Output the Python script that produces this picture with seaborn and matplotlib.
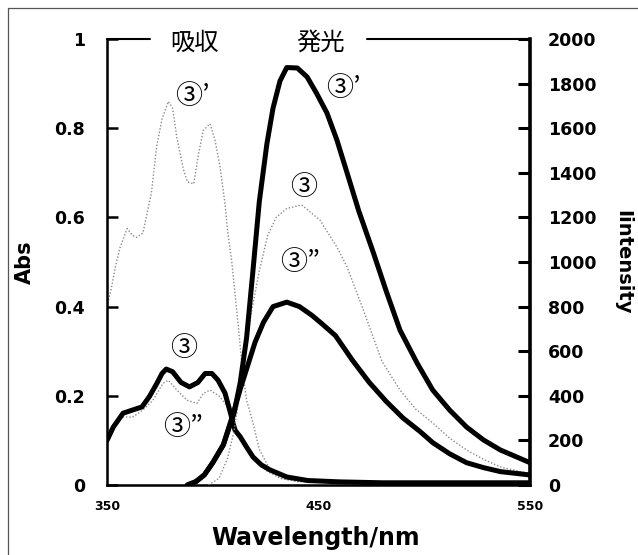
import matplotlib
matplotlib.use("Agg")
import matplotlib.pyplot as plt
from matplotlib.lines import Line2D
import seaborn as sns

# absorption spectra (Abs, left axis)
abs_3p_wl = [350, 352, 354, 356, 359.5, 362, 364, 367, 369, 371, 373.5, 376, 379, 381, 383, 386, 388,
             391, 393, 395.5, 398.7, 401, 403.4, 405.8, 407, 409, 410.5, 412, 414, 416, 419, 422, 427,
             432, 440, 460, 500, 550]
abs_3p = [0.40, 0.44, 0.49, 0.53, 0.575, 0.56, 0.555, 0.565, 0.61, 0.655, 0.76, 0.82, 0.86, 0.845, 0.78,
          0.71, 0.68, 0.675, 0.735, 0.795, 0.81, 0.775, 0.715, 0.63, 0.57, 0.50, 0.43, 0.36, 0.26, 0.19,
          0.14, 0.08, 0.035, 0.015, 0.008, 0.005, 0.004, 0.003]

abs_3_wl = [350, 353, 357.6, 362, 366.5, 370, 373.6, 376, 378, 381, 385, 389, 393, 396.4, 399.6, 402.5,
            405.8, 408, 410.5, 413, 416, 419, 423, 427, 435, 445, 460, 480, 500, 520, 550]
abs_3 = [0.10, 0.13, 0.161, 0.168, 0.175, 0.198, 0.228, 0.25, 0.26, 0.254, 0.23, 0.22, 0.23, 0.25, 0.25,
         0.235, 0.206, 0.168, 0.123, 0.108, 0.085, 0.063, 0.045, 0.034, 0.018, 0.01, 0.007, 0.005, 0.005,
         0.005, 0.005]

abs_3pp_wl = [350, 356, 362, 367, 371.7, 376.5, 379, 383, 387.8, 392.5, 395.5, 398.7, 403.4, 407, 410,
              413, 417, 421, 426, 432, 440, 460, 500, 550]
abs_3pp = [0.117, 0.153, 0.152, 0.168, 0.19, 0.228, 0.235, 0.213, 0.19, 0.183, 0.205, 0.213, 0.198, 0.175,
           0.14, 0.11, 0.075, 0.05, 0.03, 0.015, 0.008, 0.005, 0.004, 0.004]

# emission spectra (Intensity, right axis)
em_3p_wl = [388, 392, 396, 400, 405, 410, 413, 416, 419, 422, 425.6, 428.5, 431.8, 435, 440, 444.6, 449,
            454, 458.7, 463.5, 469, 476, 482, 488.5, 496.6, 504, 512, 520, 528, 536, 550]
em_3p = [0, 15, 45, 100, 180, 320, 460, 660, 960, 1270, 1530, 1690, 1812, 1872, 1870, 1830, 1758, 1668,
         1547, 1400, 1230, 1040, 870, 695, 547, 426, 336, 260, 202, 157, 100]

em_3_wl = [398, 403, 407, 410, 414, 418, 422, 426, 430, 435, 442, 450.7, 458.7, 463.5, 471, 480, 488.5,
           496, 504, 512, 520, 528, 536, 550]
em_3 = [0, 30, 120, 240, 480, 760, 960, 1120, 1200, 1240, 1256, 1188, 1067, 978, 790, 555, 426, 340, 278,
        210, 157, 115, 81, 50]

em_3pp_wl = [388, 392, 396, 400, 405, 410, 413, 416, 420, 424, 428.5, 435, 441, 447, 452, 458, 466, 474,
             482, 490, 498, 504, 512, 520, 528, 536, 550]
em_3pp = [0, 15, 45, 100, 180, 330, 430, 520, 640, 730, 800, 820, 800, 760, 720, 670, 560, 460, 375, 300,
          240, 190, 140, 100, 78, 60, 45]

abs_ticks = [0, 0.2, 0.4, 0.6, 0.8, 1]
abs_ticklabels = ["0", "0.2", "0.4", "0.6", "0.8", "1"]
int_ticks = [0, 200, 400, 600, 800, 1000, 1200, 1400, 1600, 1800, 2000]
wl_ticks = [350, 450, 550]

sns.set_style("white")
plt.rcParams["font.family"] = ["DejaVu Sans"]
plt.rcParams.update({"text.color": "black", "axes.labelcolor": "black",
                     "xtick.color": "black", "ytick.color": "black"})
cjk = ["Noto Sans CJK JP", "DejaVu Sans"]

fig, ax = plt.subplots(figsize=(6.38, 5.55), dpi=100)
fig.subplots_adjust(left=107 / 638, right=530 / 638, bottom=1 - 485 / 555, top=1 - 39 / 555)
ax2 = ax.twinx()

grey = dict(color="#8a8a8a", lw=1.0, linestyle=(0, (1, 1.4)))
black = dict(color="black", lw=3.6, solid_joinstyle="round", solid_capstyle="round")

sns.lineplot(x=abs_3p_wl, y=abs_3p, ax=ax, **grey)
sns.lineplot(x=abs_3pp_wl, y=abs_3pp, ax=ax, **grey)
sns.lineplot(x=abs_3_wl, y=abs_3, ax=ax, **black)
sns.lineplot(x=em_3_wl, y=em_3, ax=ax2, **grey)
sns.lineplot(x=em_3p_wl, y=em_3p, ax=ax2, **black)
sns.lineplot(x=em_3pp_wl, y=em_3pp, ax=ax2, **black)

ax.set_xlim(350, 550)
ax.set_ylim(0, 1)
ax2.set_ylim(0, 2000)

ax.set_xticks(wl_ticks)
ax.set_xticklabels([str(v) for v in wl_ticks], fontsize=9, fontweight="bold")
ax.tick_params(axis="x", length=0, pad=11)
ax.set_yticks(abs_ticks)
ax.set_yticklabels(abs_ticklabels, fontsize=12.5, fontweight="bold")
ax.tick_params(axis="y", direction="in", length=8, width=1.8, pad=16)
ax2.set_yticks(int_ticks)
ax2.set_yticklabels([str(v) for v in int_ticks], fontsize=12.5, fontweight="bold")
ax2.tick_params(axis="y", direction="in", length=9, width=2.2, pad=13)

ax.set_xlabel("Wavelength/nm", fontsize=17, fontweight="heavy", va="center")
ax.xaxis.set_label_coords(0.494, -0.118)
ax.set_ylabel("Abs", fontsize=15, fontweight="bold", va="center")
ax.yaxis.set_label_coords(-0.194, 0.5)
ax2.set_ylabel("Iintensity", fontsize=14, fontweight="bold", rotation=270, va="center")
ax2.yaxis.set_label_coords(1.22, 0.5)

for a in (ax, ax2):
    a.spines["top"].set_visible(False)
    for s in a.spines.values():
        s.set_color("black")
ax.spines["left"].set_linewidth(1.8)
ax.spines["bottom"].set_linewidth(1.8)
ax2.spines["right"].set_linewidth(2.6)

# broken top frame around the 吸収 / 発光 headings
ax.plot([0, 0.102], [1, 1], transform=ax.transAxes, color="black", lw=1.5, clip_on=False)
ax.plot([0.615, 1], [1, 1], transform=ax.transAxes, color="black", lw=1.5, clip_on=False)
ax.text(0.208, 0.991, "吸収", transform=ax.transAxes, ha="center", va="center", fontsize=17.5, family=cjk)
ax.text(0.504, 0.991, "発光", transform=ax.transAxes, ha="center", va="center", fontsize=17.5, family=cjk)

# curve labels
labels = [
    (382.0, 0.870, "③’"),
    (453.5, 0.890, "③’"),
    (436.5, 0.668, "③"),
    (431.8, 0.500, "③”"),
    (379.8, 0.307, "③"),
    (376.5, 0.128, "③”"),
]
for x, y, s in labels:
    ax.text(x, y, s, ha="left", va="center", fontsize=19.5, family=cjk)

# scan frame lines
fig.add_artist(Line2D([8 / 638, 8 / 638], [0, 1 - 8 / 555], transform=fig.transFigure, color="#555555", lw=0.9))
fig.add_artist(Line2D([8 / 638, 1], [1 - 8 / 555, 1 - 8 / 555], transform=fig.transFigure, color="#555555", lw=0.9))

fig.savefig("out.png", dpi=100)
